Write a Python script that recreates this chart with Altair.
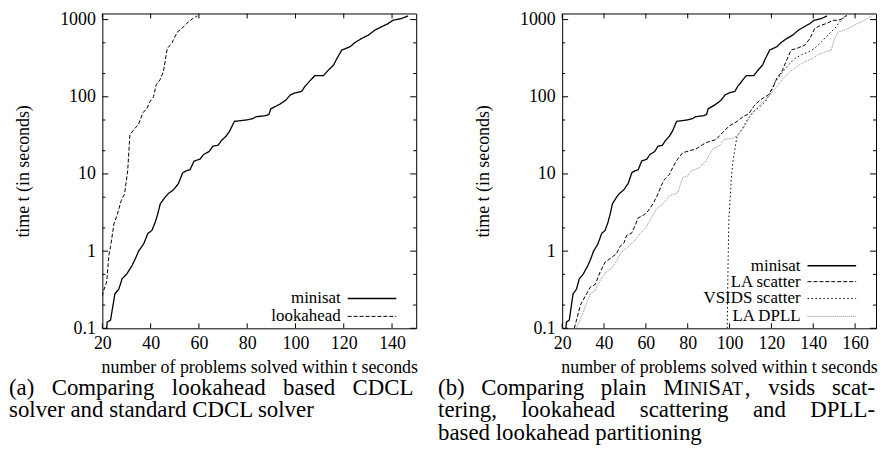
import altair as alt
import pandas as pd

# ---------------- data ----------------
MINISAT_N = [21.8, 22, 23.4, 25.2, 26.8, 28.2, 30, 32.3, 33.7, 35, 37.1, 38.9, 40.5, 41.9, 42.9, 44,
             46, 47.4, 49.4, 51.5, 53.3, 54.9, 56.3, 58, 60.4, 62, 64.2, 65.8, 67.9, 69.3, 71.3, 72.7,
             74.7, 79.5, 82.3, 83.6, 87.7, 89, 89.8, 93.2, 95.9, 97.9, 99.8, 102.6, 103.9, 106, 108,
             111.6, 113.7, 115.8, 117.2, 119.2, 122.6, 124.7, 127.4, 130.2, 132.9, 135.6, 138.4,
             140.4, 143.8, 146.6]
MINISAT_T = [0.1, 0.12, 0.128, 0.28, 0.32, 0.44, 0.5, 0.65, 0.8, 1.0, 1.24, 1.7, 1.85, 2.36, 3.0, 4.1,
             5.0, 5.6, 6.2, 7.5, 10.4, 11, 11.3, 14.7, 15.5, 17.9, 19.5, 22.9, 23.5, 27, 31, 35.8,
             48, 50, 52, 55, 57, 59, 70, 79, 90, 106, 112, 118, 136, 161, 188,
             188, 223, 258, 315, 403, 445, 506, 570, 630, 730, 805, 888,
             980, 1030, 1115]

LOOKAHEAD_N = [20, 20.4, 21.8, 22.7, 23.4, 24.8, 26.2, 27.8, 29.2, 30.5, 31.4, 33, 35, 36.8, 38.5,
               39.8, 41.2, 42.3, 43.9, 45.3, 46.9, 48.7, 51.1, 52.8, 54.9, 57.4, 59.3]
LOOKAHEAD_T = [0.26, 0.3, 0.4, 0.88, 1.15, 2.25, 3, 4.5, 5.5, 11, 32, 37.5, 44, 62, 71,
               87, 100, 143, 166, 212, 424, 490, 693, 760, 890, 1030, 1115]

LA_SCATTER_N = [25.8, 27.1, 28.7, 31, 33.4, 35.8, 38.2, 40.5, 42.9, 46, 47.6, 49.5, 50.8, 53.1, 54.7,
                56.3, 58.7, 61, 63.4, 65.8, 67.3, 68.9, 71.3, 73.2, 75.2, 77.6, 80.8, 83.9, 87.1,
                89.4, 93.4, 96.5, 99.7, 103.6, 106.8, 109.2, 111.5, 114.7, 118.6, 121, 122.6, 125,
                127.3, 129.4, 132.8, 136, 138.4, 140.7, 143.1, 146.3, 149.4, 151.8, 154.2, 155.7]
LA_SCATTER_T = [0.1, 0.135, 0.2, 0.26, 0.34, 0.37, 0.54, 0.72, 0.8, 0.93, 1.15, 1.27, 1.6, 1.7, 2.1,
                2.7, 2.9, 3.3, 4.1, 5.5, 7, 8.5, 9.9, 12.7, 15.5, 18.8, 20, 21, 24,
                25.8, 27.8, 34, 41.5, 48, 56, 60, 75, 91, 106, 136, 174, 212,
                299, 403, 430, 467, 569, 766, 830, 890, 980, 980, 1030, 1135]

VSIDS_N = [98.9, 99.2, 99.7, 101, 101.8, 103.6, 106, 108.4, 111.5, 114.7, 117.1, 119.4, 121.8, 125,
           128.1, 131.3, 134.4, 137.6, 140.7, 143.9, 147, 150.2, 152.6, 154.9, 156.5]
VSIDS_T = [0.1, 0.5, 2.7, 10, 16, 31, 38, 50, 65, 75, 87, 111, 157, 203,
           258, 315, 350, 380, 424, 515, 630, 766, 930, 1080, 1137]

LA_DPLL_N = [26.8, 28.7, 31, 33.4, 35.8, 38.2, 41.3, 43.7, 46, 48.1, 50.8, 53.9, 57.1, 60.2, 62.6,
             65, 68.1, 71.3, 75.2, 77.6, 80, 81.6, 85.5, 88.7, 91.8, 95, 97.3, 101.3, 103.6, 106.8,
             110, 113.1, 116.3, 119.4, 122.6, 125.7, 128.9, 132, 136, 139.9, 142.3, 145.5, 148.6,
             150.2, 151.8, 154.9, 158.1, 161.2, 164.4, 168.3]
LA_DPLL_T = [0.1, 0.13, 0.19, 0.28, 0.31, 0.42, 0.55, 0.6, 0.75, 0.97, 1.1, 1.3, 1.67, 2.05, 2.7,
             3.5, 4.1, 5.2, 5.7, 9, 9.4, 11, 12, 14.7, 20.8, 23, 28, 29, 31, 39.5,
             56, 71, 87, 106, 136, 174, 212, 245, 285, 315, 350, 380, 400,
             570, 692, 730, 805, 890, 980, 1135]

X_TICKS_A = [20, 40, 60, 80, 100, 120, 140]
X_TICKS_B = [20, 40, 60, 80, 100, 120, 140, 160]
Y_MAJOR = [0.1, 1, 10, 100, 1000]
Y_MINOR = [0.2, 0.5, 2, 5, 20, 50, 200, 500]

X_TITLE = "number of problems solved within t seconds"
Y_TITLE = "time t (in seconds)"

# ---------------- styling ----------------
FONT = "Liberation Serif"
W, H = 316, 317
Y_DOMAIN = [0.1, 1200]

STYLES = {
    "minisat":       dict(color="#000000", dash=[1, 0], width=1.3),
    "lookahead":     dict(color="#000000", dash=[4, 2], width=1.0),
    "LA scatter":    dict(color="#000000", dash=[4, 2], width=1.0),
    "VSIDS scatter": dict(color="#000000", dash=[1.5, 2.5], width=1.0),
    "LA DPLL":       dict(color="#8a8a8a", dash=[1, 1], width=1.0),
}


def panel(series, xmax, xticks, legend_right, legend_rows, captions, cap_offset):
    xs = alt.Scale(domain=[20, xmax], nice=False, zero=False)
    ys = alt.Scale(type="log", domain=Y_DOMAIN, nice=False)
    xaxis = alt.Axis(values=xticks, ticks=False, domain=False, grid=False, labelFont=FONT,
                     labelFontSize=18, labelColor="black", labelPadding=6, title=X_TITLE,
                     titleFont=FONT, titleFontSize=18, titleFontWeight="normal", titleColor="black",
                     titlePadding=6, labelFlush=False)
    yaxis = alt.Axis(values=Y_MAJOR, format="~g", ticks=False, domain=False, grid=False,
                     labelFont=FONT, labelFontSize=18, labelColor="black", labelPadding=7,
                     title=Y_TITLE, titleFont=FONT, titleFontSize=18, titleFontWeight="normal",
                     titleColor="black", titlePadding=27, labelFlush=False)
    layers = []
    for name, ns, ts in series:
        st = STYLES[name]
        df = pd.DataFrame({"n": ns, "t": ts})
        layers.append(
            alt.Chart(df).mark_line(color=st["color"], strokeDash=st["dash"],
                                    strokeWidth=st["width"], clip=True, interpolate="linear")
            .encode(x=alt.X("n:Q", scale=xs, axis=xaxis), y=alt.Y("t:Q", scale=ys, axis=yaxis))
        )
    # inward tick marks (gnuplot style, mirrored)
    xt = pd.DataFrame({"n": xticks})
    for y0, y1 in [(H, H - 5), (0, 5)]:
        layers.append(alt.Chart(xt).mark_rule(color="black", strokeWidth=1)
                      .encode(x=alt.X("n:Q", scale=xs, axis=xaxis), y=alt.value(y0), y2=alt.value(y1)))
    for vals, ln in [(Y_MAJOR, 6), (Y_MINOR, 3)]:
        yt = pd.DataFrame({"t": vals})
        for x0, x1 in [(0, ln), (W, W - ln)]:
            layers.append(alt.Chart(yt).mark_rule(color="black", strokeWidth=1)
                          .encode(y=alt.Y("t:Q", scale=ys, axis=yaxis), x=alt.value(x0), x2=alt.value(x1)))
    # key (text to the left of the line sample)
    for (name, ypos) in legend_rows:
        st = STYLES[name]
        layers.append(alt.Chart(pd.DataFrame({"label": [name]}))
                      .mark_text(align="right", baseline="middle", font=FONT, fontSize=17, color="black")
                      .encode(text="label:N", x=alt.value(legend_right), y=alt.value(ypos)))
        layers.append(alt.Chart(pd.DataFrame({"label": [name]}))
                      .mark_rule(color=st["color"], strokeDash=st["dash"], strokeWidth=st["width"])
                      .encode(x=alt.value(legend_right + 7), x2=alt.value(W - 20), y=alt.value(ypos)))
    # caption below the panel (justified by placing the words)
    for (word, px, py, size) in captions:
        layers.append(alt.Chart(pd.DataFrame({"w": [word]}))
                      .mark_text(align="left", baseline="alphabetic", font=FONT, fontSize=size, color="black")
                      .encode(text="w:N", x=alt.value(px - cap_offset), y=alt.value(py - 8)))
    return alt.layer(*layers).properties(width=W, height=H)


CS = 23   # caption font size
SC = 18   # small caps size
CAP_A = [("(a)", 8, 392, CS), ("Comparing", 51, 392, CS), ("lookahead", 172, 392, CS),
         ("based", 284, 392, CS), ("CDCL", 354, 392, CS),
         ("solver and standard CDCL solver", 8, 414, CS)]
CAP_B = [("(b)", 440, 392, CS), ("Comparing", 483.6, 392, CS), ("plain", 603.9, 392, CS),
         ("M", 666.7, 392, CS), ("INI", 687.1, 392, SC), ("S", 712.1, 392, CS), ("AT", 724.9, 392, SC),
         (",", 748.9, 392, CS), ("vsids", 772.5, 392, CS), ("scat-", 836.6, 392, CS),
         ("tering,", 440, 414, CS), ("lookahead", 524, 414, CS), ("scattering", 643.1, 414, CS),
         ("and", 757.1, 414, CS), ("DPLL-", 814.9, 414, CS),
         ("based lookahead partitioning", 440, 437, CS)]

pa = panel([("minisat", MINISAT_N, MINISAT_T), ("lookahead", LOOKAHEAD_N, LOOKAHEAD_T)],
           150, X_TICKS_A, 240, [("minisat", 287), ("lookahead", 305)], CAP_A, 102)
pb = panel([("minisat", MINISAT_N, MINISAT_T), ("LA scatter", LA_SCATTER_N, LA_SCATTER_T),
            ("VSIDS scatter", VSIDS_N, VSIDS_T), ("LA DPLL", LA_DPLL_N, LA_DPLL_T)],
           170, X_TICKS_B, 240,
           [("minisat", 254), ("LA scatter", 270), ("VSIDS scatter", 287), ("LA DPLL", 305)],
           CAP_B, 565)

chart = (alt.hconcat(pa, pb, spacing=147, bounds="flush")
         .configure_view(stroke="black", strokeWidth=1)
         .properties(padding={"left": 0, "top": 0, "right": 0, "bottom": 0}, background="white"))

chart.save("out.html", embed_options={"renderer": "svg", "actions": False})
